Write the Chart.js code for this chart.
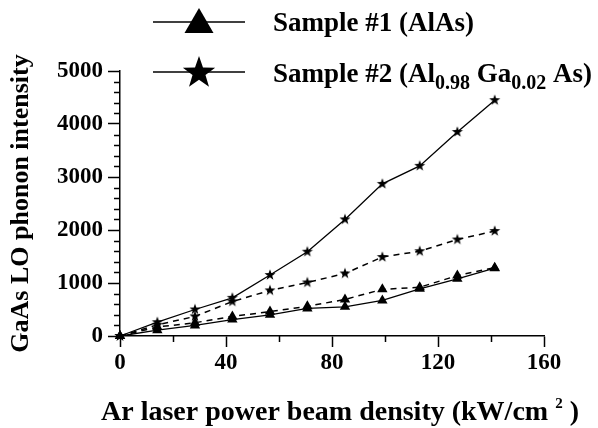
<!DOCTYPE html>
<html><head><meta charset="utf-8">
<script src="https://cdn.jsdelivr.net/npm/chart.js@4"></script>
<style>html,body{margin:0;padding:0;background:#fff}#wrap{width:598px;height:428px}</style>
</head><body><div id="wrap"><canvas id="c" width="598" height="428"></canvas></div>
<script>
// ---- data ----
const powerDensity  = [0, 14.1, 28.3, 42.4, 56.6, 70.7, 84.9, 99.0, 113.1, 127.3, 141.4];
const sample1Solid  = [0, 110, 200, 310, 400, 520, 550, 670, 890, 1080, 1280];
const sample1Dashed = [0, 170, 250, 370, 460, 560, 690, 880, 920, 1140, 1290];
const sample2Solid  = [0, 260, 500, 720, 1150, 1590, 2200, 2870, 3210, 3850, 4450];
const sample2Dashed = [0, 210, 370, 650, 860, 1010, 1180, 1490, 1600, 1820, 1980];
const xTickLabels = ['0', '40', '80', '120', '160'];
const yTickLabels = ['0', '1000', '2000', '3000', '4000', '5000'];
const xMinorTicks = [20, 60, 100, 140];
const yMinorTicks = [200,400,600,800,1200,1400,1600,1800,2200,2400,2600,2800,3200,3400,3600,3800,4200,4400,4600,4800];
const legend1 = [['Sample #1 (AlAs)', 0]];
const legend2 = [['Sample #2 (Al', 0], ['0.98', 1], [' Ga', 0], ['0.02', 1], [' As)', 0]];
const xTitle = [['Ar laser power beam density (kW/cm ', 0], ['2', -1], [' )', 0]];
const yTitle = 'GaAs LO phonon intensity';

const SERIF = '"Liberation Serif", "Times New Roman", serif';

function starPath(ctx, cx, cy, R, r) {
  ctx.beginPath();
  for (let i = 0; i < 10; i++) {
    const a = -Math.PI / 2 + i * Math.PI / 5;
    const rad = i % 2 === 0 ? R : r;
    ctx.lineTo(cx + rad * Math.cos(a), cy + rad * Math.sin(a));
  }
  ctx.closePath();
}
function makeStar(R) {
  const s = Math.ceil(R * 2 + 2);
  const c = document.createElement('canvas');
  c.width = s; c.height = s;
  const g = c.getContext('2d');
  g.fillStyle = '#000';
  starPath(g, s / 2, s / 2, R, R * 0.40);
  g.fill();
  return c;
}
const starImg = makeStar(5.8);

function pts(ys) { return powerDensity.map((x, i) => ({x: x, y: ys[i]})); }

function drawRich(ctx, segs, x, y, size, subSize, subDy, supDy) {
  ctx.textBaseline = 'alphabetic';
  ctx.textAlign = 'left';
  segs.forEach(([t, kind]) => {
    ctx.font = 'bold ' + (kind === 0 ? size : subSize) + 'px ' + SERIF;
    const dy = kind === 1 ? subDy : (kind === -1 ? supDy : 0);
    ctx.fillText(t, x, y + dy);
    x += ctx.measureText(t).width;
  });
}

const decor = {
  id: 'decor',
  afterDraw(chart) {
    const ctx = chart.ctx;
    const xs = chart.scales.x, ys = chart.scales.y;
    ctx.save();
    ctx.strokeStyle = '#000';
    ctx.fillStyle = '#000';
    ctx.lineWidth = 1.5;
    // minor ticks
    ctx.beginPath();
    yMinorTicks.forEach(v => {
      const py = Math.round(ys.getPixelForValue(v)) + 0.5;
      ctx.moveTo(xs.left - 6, py); ctx.lineTo(xs.left, py);
    });
    xMinorTicks.forEach(v => {
      const px = Math.round(xs.getPixelForValue(v)) + 0.5;
      ctx.moveTo(px, ys.bottom); ctx.lineTo(px, ys.bottom + 6);
    });
    ctx.stroke();

    // legend
    const lx0 = 153, lx1 = 245, mx = 199;
    const rows = [22, 72];
    rows.forEach(y => {
      ctx.beginPath(); ctx.moveTo(lx0, y); ctx.lineTo(lx1, y); ctx.stroke();
    });
    ctx.beginPath();
    ctx.moveTo(mx, rows[0] - 14);
    ctx.lineTo(mx + 14.5, rows[0] + 11);
    ctx.lineTo(mx - 14.5, rows[0] + 11);
    ctx.closePath(); ctx.fill();
    starPath(ctx, mx, rows[1] + 1, 17, 17 * 0.40);
    ctx.fill();

    drawRich(ctx, legend1, 273, 31, 27, 20, 7, 0);
    drawRich(ctx, legend2, 273, 82, 27, 20, 7, 0);

    // x-axis title
    drawRich(ctx, xTitle, 101, 420, 28, 15, 0, -12);
    ctx.restore();
  }
};

const tickFont = {family: SERIF, size: 23, weight: 'bold'};
const titleFont = {family: SERIF, size: 26, weight: 'bold'};

new Chart(document.getElementById('c'), {
  type: 'scatter',
  data: {
    datasets: [
      {label: 'Sample #2 solid', data: pts(sample2Solid), showLine: true, borderColor: '#000', borderWidth: 1.3,
       pointStyle: starImg, backgroundColor: '#000', clip: false},
      {label: 'Sample #2 dashed', data: pts(sample2Dashed), showLine: true, borderColor: '#000', borderWidth: 1.5, borderDash: [6, 5],
       pointStyle: starImg, backgroundColor: '#000', clip: false},
      {label: 'Sample #1 dashed', data: pts(sample1Dashed), showLine: true, borderColor: '#000', borderWidth: 1.5, borderDash: [6, 5],
       pointStyle: 'triangle', pointRadius: 6, pointBackgroundColor: '#000', pointBorderColor: '#000', pointBorderWidth: 0, clip: false},
      {label: 'Sample #1 solid', data: pts(sample1Solid), showLine: true, borderColor: '#000', borderWidth: 1.3,
       pointStyle: 'triangle', pointRadius: 6, pointBackgroundColor: '#000', pointBorderColor: '#000', pointBorderWidth: 0, clip: false}
    ]
  },
  options: {
    responsive: false,
    animation: false,
    devicePixelRatio: 1,
    layout: {padding: {top: 71, right: 54, left: 0, bottom: 0}},
    plugins: {legend: {display: false}, tooltip: {enabled: false}},
    scales: {
      x: {
        type: 'linear', min: 0, max: 160,
        afterFit: s => { s.height = 92; },
        afterBuildTicks: s => { s.ticks = xTickLabels.map(v => ({value: +v})); },
        ticks: {stepSize: 40, color: '#000', font: tickFont, padding: 2, maxRotation: 0,
                callback: v => xTickLabels.includes(String(v)) ? String(v) : ''},
        grid: {display: true, drawOnChartArea: false, drawTicks: true, tickLength: 11, tickColor: '#000', tickWidth: 1.5},
        border: {display: true, color: '#000', width: 1.5},
        title: {display: false}
      },
      y: {
        type: 'linear', min: 0, max: 5000,
        afterFit: s => { s.width = 120; },
        afterBuildTicks: s => { s.ticks = yTickLabels.map(v => ({value: +v})); },
        ticks: {stepSize: 1000, color: '#000', font: tickFont, padding: 5,
                callback: v => yTickLabels.includes(String(v)) ? String(v) : ''},
        grid: {display: true, drawOnChartArea: false, drawTicks: true, tickLength: 12, tickColor: '#000', tickWidth: 1.5},
        border: {display: true, color: '#000', width: 1.5},
        title: {display: true, text: yTitle, color: '#000', font: titleFont, padding: {top: 6, bottom: 0}}
      }
    }
  },
  plugins: [decor]
});
</script>
</body></html>
